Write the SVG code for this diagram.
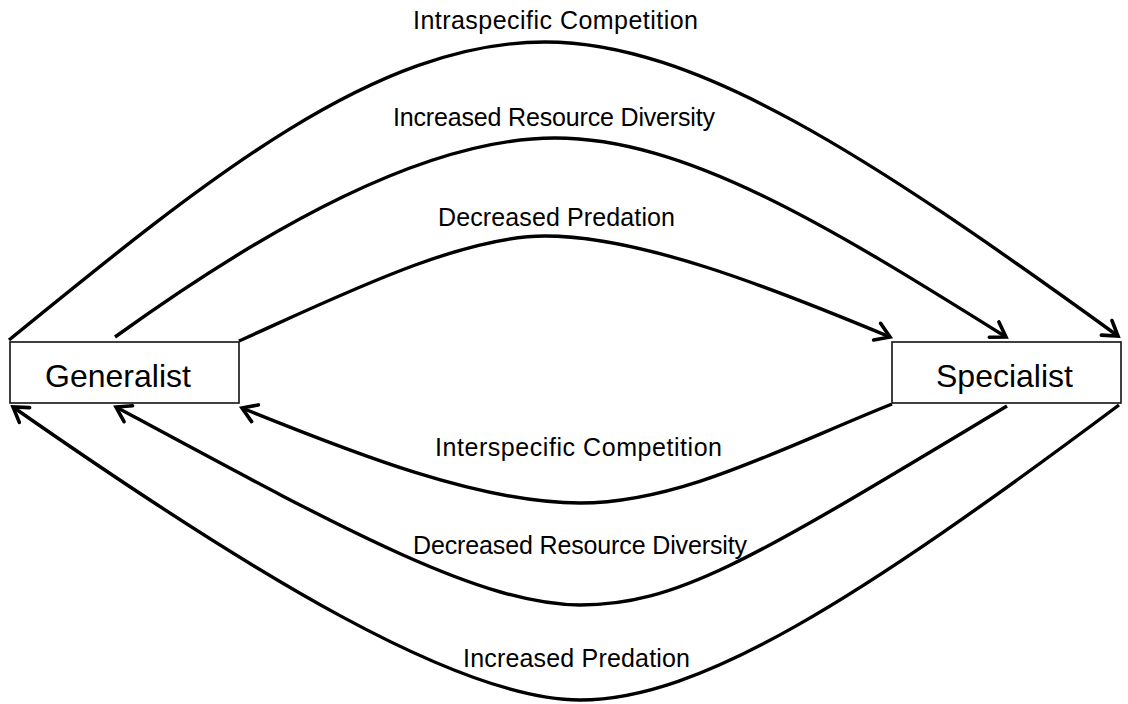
<svg xmlns="http://www.w3.org/2000/svg" width="1128" height="704" viewBox="0 0 1128 704">
<style>
.node rect{fill:#ffffff;stroke:#111111;stroke-width:1.6}
.node text{font-family:"Liberation Sans",Arial,sans-serif;font-size:32px;fill:#000;text-anchor:middle}
.lbl{font-family:"Liberation Sans",Arial,sans-serif;font-size:25px;fill:#000;text-anchor:middle}
.conn path{fill:none;stroke:#000;stroke-width:3.4;marker-end:url(#arrow)}
</style>
<defs>
<marker id="arrow" markerUnits="userSpaceOnUse" viewBox="-20 -15 30 30" refX="0" refY="0" markerWidth="30" markerHeight="30" orient="auto" overflow="visible">
<path d="M-14,-9 L0,0 L-14,9" fill="none" stroke="#000" stroke-width="3.6" stroke-linejoin="miter" stroke-linecap="round"/>
</marker>
</defs>
<rect width="1128" height="704" fill="#ffffff"/>
<g id="connectors" class="conn">
<path id="c-intra" d="M9,340 C209,177 375,42 545,42 C695,42 868,155 1118,336"/>
<path id="c-incres" d="M115,337 C265,229 425,138 555,138 C685,138 827,225 1006,337"/>
<path id="c-decpred" d="M239,341 C339,296 460,236 545,236 C640,236 770,287 890,337"/>
<path id="c-inter" d="M892,404 C782,448 680,503 580,503 C480,503 353,453 242,408"/>
<path id="c-decres" d="M1007,406 C757,556 680,605 580,605 C480,605 337,526 116,407"/>
<path id="c-incpred" d="M1119,405 C858,600 700,700 580,700 C460,700 255,576 13,407"/>
</g>
<g id="labels">
<text class="lbl" x="555.5" y="29" textLength="285" lengthAdjust="spacing">Intraspecific Competition</text>
<text class="lbl" x="554" y="126" textLength="322" lengthAdjust="spacing">Increased Resource Diversity</text>
<text class="lbl" x="556.5" y="226" textLength="237" lengthAdjust="spacing">Decreased Predation</text>
<text class="lbl" x="578.5" y="456" textLength="287" lengthAdjust="spacing">Interspecific Competition</text>
<text class="lbl" x="580" y="554" textLength="334" lengthAdjust="spacing">Decreased Resource Diversity</text>
<text class="lbl" x="576.5" y="667" textLength="227" lengthAdjust="spacing">Increased Predation</text>
</g>
<g id="generalist" class="node">
<rect x="10" y="342" width="229" height="61"/>
<text x="118" y="387">Generalist</text>
</g>
<g id="specialist" class="node">
<rect x="892" y="342" width="229" height="61"/>
<text x="1004.5" y="387">Specialist</text>
</g>
</svg>
